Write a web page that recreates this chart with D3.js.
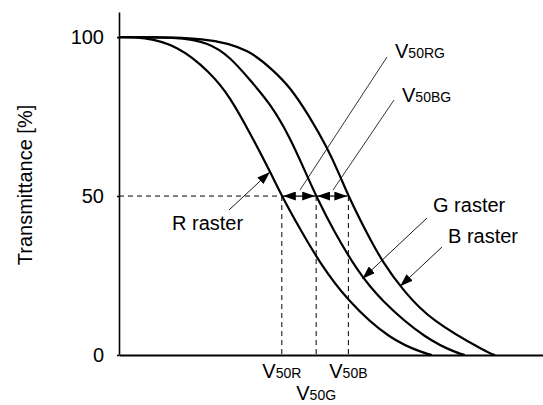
<!DOCTYPE html>
<html>
<head>
<meta charset="utf-8">
<script src="https://cdn.jsdelivr.net/npm/d3@7"></script>
<style>
  body { margin: 0; background: #fff; }
  text { font-family: "Liberation Sans", Arial, sans-serif; fill: #000; }
</style>
</head>
<body>
<div class="chart"></div>
<script>
// curve points: [voltage (arbitrary units), transmittance %]
const rCurve = [[0,100],[5.7,100],[13.7,97.5],[21.5,89],[26.2,81.2],[30.9,69.8],[35.6,57.8],[38.4,50],
  [42.7,39.6],[47.4,28.9],[53.7,17.3],[63.9,4.7],[72.6,0.3],[73.8,0]];
const gCurve = [[0,100],[13.7,100],[21,98.4],[26.2,93.8],[30.9,86.5],[35.6,79.2],[40.3,68.6],[44.3,56.5],
  [46.5,50],[50.5,39.3],[56.1,26.7],[61.6,17.3],[72.6,4.7],[80.4,0.3],[81.6,0]];
const bCurve = [[0,100],[21.5,100],[30.9,95.9],[36.3,89.6],[40.3,84.4],[45,74.9],[49,65.5],[52.1,56.5],
  [54.1,50],[58.4,38.4],[62.3,28.9],[67,20.4],[73.3,11],[87.5,0.3],[88.7,0]];
const curves = [rCurve, gCurve, bCurve];

const v50 = [38.4, 46.5, 54.1];
const v50Names = ["50R", "50G", "50B"];
const yTicks = [0, 50, 100];

const width = 543;
const height = 405;

const svg = d3.select('.chart')
    .append('svg')
    .attr('width', width)
    .attr('height', height);

const x = d3.scaleLinear().domain([0, 100]).range([119, 543]);
const y = d3.scaleLinear().domain([0, 107.9]).range([355, 12]);

const defs = svg.append('defs');
defs.append('marker')
    .attr('id', 'arrow')
    .attr('markerUnits', 'userSpaceOnUse')
    .attr('markerWidth', 13)
    .attr('markerHeight', 9)
    .attr('refX', 13)
    .attr('refY', 4.5)
    .attr('orient', 'auto-start-reverse')
    .append('path')
    .attr('d', 'M0,0 L13,4.5 L0,9 Z')
    .attr('fill', '#000');

// dashed guides at 50 %
svg.append('line')
    .attr('x1', x(0)).attr('x2', x(v50[0]))
    .attr('y1', y(50)).attr('y2', y(50))
    .attr('stroke', '#000').attr('stroke-width', 1)
    .attr('stroke-dasharray', '5,4');

svg.selectAll('.vdash')
    .data(v50)
    .enter()
    .append('line')
    .attr('x1', d => x(d)).attr('x2', d => x(d))
    .attr('y1', y(50)).attr('y2', y(0))
    .attr('stroke', '#000').attr('stroke-width', 1)
    .attr('stroke-dasharray', '5,4');

// double arrows between V50 points
svg.selectAll('.darrow')
    .data([[v50[0], v50[1]], [v50[1], v50[2]]])
    .enter()
    .append('line')
    .attr('x1', d => x(d[0]) + 1).attr('x2', d => x(d[1]) - 1)
    .attr('y1', y(50)).attr('y2', y(50))
    .attr('stroke', '#000').attr('stroke-width', 1.2)
    .attr('marker-start', 'url(#arrow)')
    .attr('marker-end', 'url(#arrow)');

// curves
const line = d3.line()
    .x(d => x(d[0]))
    .y(d => y(d[1]))
    .curve(d3.curveBasis);

svg.selectAll('.curve')
    .data(curves)
    .enter()
    .append('path')
    .attr('d', line)
    .attr('fill', 'none')
    .attr('stroke', '#000')
    .attr('stroke-width', 2.2);

// axes
const yAxis = svg.append('g')
    .attr('transform', `translate(${x(0)},0)`)
    .call(d3.axisLeft(y).tickValues(yTicks).tickSize(2).tickSizeOuter(0).tickPadding(13));
yAxis.select('.domain').attr('stroke-width', 1.6);
yAxis.selectAll('.tick line').attr('stroke-width', 1.6);
yAxis.selectAll('.tick text')
    .style('font-size', '20px')
    .style('font-family', '"Liberation Sans", Arial, sans-serif');

const xAxis = svg.append('g')
    .attr('transform', `translate(0,${y(0)})`)
    .call(d3.axisBottom(x).tickValues([]).tickSizeOuter(0));
xAxis.select('.domain').attr('stroke-width', 2);

svg.append('text')
    .attr('transform', `translate(32,185) rotate(-90)`)
    .attr('text-anchor', 'middle')
    .style('font-size', '20px')
    .text('Transmittance [%]');

// V50 labels under axis
function vLabel(g, sub) {
    g.append('tspan').style('font-size', '20px').text('V');
    g.append('tspan').style('font-size', '14px').text(sub);
}
v50.forEach((v, i) => {
    const t = svg.append('text')
        .attr('x', x(v))
        .attr('y', i === 1 ? 400 : 378)
        .attr('text-anchor', 'middle');
    vLabel(t, v50Names[i]);
});

// annotations: tail in px, tip in data coords
const leaders = [
    {from: [229, 210], to: [35.6, 57.6]},
    {from: [427, 218], to: [57.4, 24]},
    {from: [442, 247], to: [66.3, 21.6]}
];
svg.selectAll('.leader')
    .data(leaders)
    .enter()
    .append('line')
    .attr('x1', d => d.from[0]).attr('y1', d => d.from[1])
    .attr('x2', d => x(d.to[0])).attr('y2', d => y(d.to[1]))
    .attr('stroke', '#000').attr('stroke-width', 0.9)
    .attr('marker-end', 'url(#arrow)');

// plain leader lines for V50RG / V50BG
svg.append('line')
    .attr('x1', 387).attr('y1', 57).attr('x2', 300).attr('y2', 190)
    .attr('stroke', '#000').attr('stroke-width', 0.8);
svg.append('line')
    .attr('x1', 394).attr('y1', 100).attr('x2', 333).attr('y2', 190)
    .attr('stroke', '#000').attr('stroke-width', 0.8);

const rg = svg.append('text').attr('x', 395).attr('y', 58);
vLabel(rg, '50RG');
const bg = svg.append('text').attr('x', 402).attr('y', 102);
vLabel(bg, '50BG');

svg.append('text').attr('x', 172).attr('y', 230).style('font-size', '20px').text('R raster');
svg.append('text').attr('x', 433).attr('y', 212).style('font-size', '20px').text('G raster');
svg.append('text').attr('x', 448).attr('y', 243).style('font-size', '20px').text('B raster');
</script>
</body>
</html>
